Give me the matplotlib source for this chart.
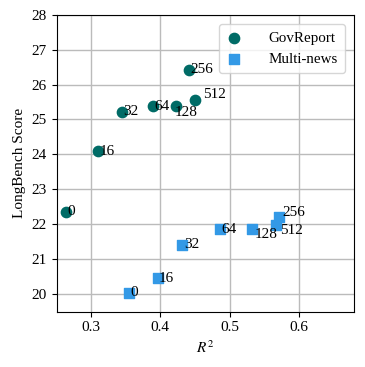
import matplotlib.pyplot as plt

plt.rcParams['font.family'] = ['Liberation Serif', 'DejaVu Serif']
plt.rcParams['mathtext.fontset'] = 'stix'

labels = ["0", "16", "32", "64", "128", "256", "512"]

gov_r2 = [0.264, 0.310, 0.345, 0.390, 0.423, 0.441, 0.450]
gov_score = [22.36, 24.09, 25.22, 25.38, 25.39, 26.43, 25.57]

mn_r2 = [0.355, 0.396, 0.432, 0.486, 0.533, 0.572, 0.567]
mn_score = [20.04, 20.45, 21.42, 21.86, 21.86, 22.22, 21.97]

# label offsets in points
gov_off = [(1, 0), (1, 0), (1, 0), (1, 0), (-1, -5), (1, 0), (6, 4)]
mn_off = [(1, 0), (1, 0), (1, 0), (1, 0), (2, -4), (2, 3), (3, -4)]

fig, ax = plt.subplots(figsize=(3.65, 3.67), dpi=100)
ax.grid(True, color="#bbbbbb", linewidth=1.0, zorder=0)
ax.set_axisbelow(True)

ax.scatter(gov_r2, gov_score, s=55, marker="o", color="#006b66", label="GovReport", zorder=3)
ax.scatter(mn_r2, mn_score, s=55, marker="s", color="#3399e6", label="Multi-news", zorder=3)

for i in range(len(labels)):
    ax.annotate(labels[i], (gov_r2[i], gov_score[i]), xytext=gov_off[i],
                textcoords="offset points", ha="left", va="center", fontsize=11, zorder=4)
    ax.annotate(labels[i], (mn_r2[i], mn_score[i]), xytext=mn_off[i],
                textcoords="offset points", ha="left", va="center", fontsize=11, zorder=4)

ax.set_xlim(0.25, 0.68)
ax.set_ylim(19.5, 28)
ax.set_xticks([0.3, 0.4, 0.5, 0.6])
ax.set_yticks(range(20, 29))
ax.tick_params(labelsize=11)
ax.set_xlabel("$R^2$", fontsize=11)
ax.set_ylabel("LongBench Score", fontsize=11)
ax.legend(loc="upper right", fontsize=10.8, handlelength=1.0, handletextpad=1.8,
          borderpad=0.5, borderaxespad=0.6)

fig.subplots_adjust(left=0.155, right=0.97, top=0.96, bottom=0.151)
fig.savefig("out.png", dpi=100)
